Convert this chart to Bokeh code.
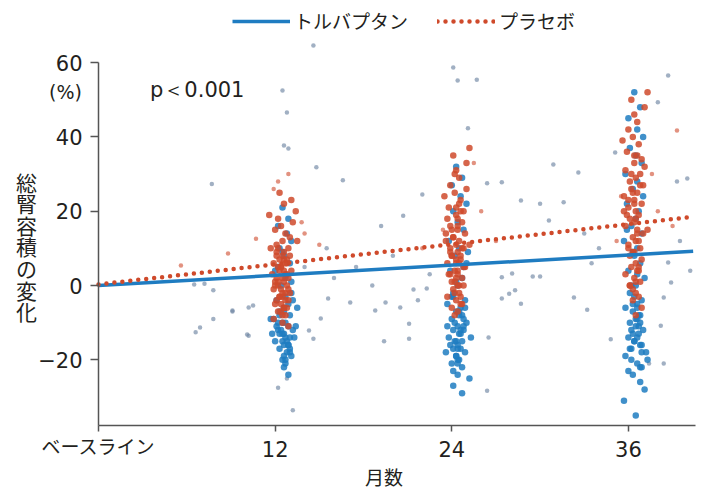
from bokeh.plotting import figure
from bokeh.models import Range1d, FixedTicker, Label, Legend, LegendItem, LinearAxis
from bokeh.embed import file_html
from bokeh.resources import INLINE

# ---------------- data ----------------
month_ticks = [0, 12, 24, 36]
month_labels = ["", "12", "24", "36"]
baseline_tick = [0]
baseline_label = ["ベースライン"]
y_ticks = [-20, 0, 20, 40, 60]
y_labels = ["−20", "0", "20", "40", "60"]

trend_x = [0, 40.4]
tol_trend = [0.0, 9.2]
pla_trend = [0.3, 18.5]

# placebo points around month 12, 24, 36
R12x = [12.5,12.9,12.1,13.0,12.6,11.9,12.8,12.4,12.2,13.1,
        12.3,12.7,11.8,12.5,12.9,12.0,12.6,12.8,12.2,12.4,
        11.9,12.7,13.0,12.3,12.5,12.1,12.9,12.4,12.0,12.8,
        12.6,12.2,12.7,11.9,12.5,12.9,12.1,12.6,12.3,13.0,
        12.0,12.7,12.4,13.2,12.2,13.4,11.6,12.6,13.1,12.3,
        11.7,13.5,12.1,12.8,12.5,12.4,12.7,12.0,12.5,12.6,
        12.2,12.8,12.4,12.1,12.9,12.3,12.6,12.5,12.2,12.7]
R12y = [12,10,9,8,7,6,6,5,5,4,
        4,3,3,2,2,1,1,0,0,-1,
        -1,-2,-2,-3,-3,-4,-4,-5,-5,-6,
        -6,-7,-8,-9,-10,-11,11,9,7,13,
        15,14,16,17,18,20,19,22,23,25,
        10,12,8,3,-2,-7,-4,0,8,4,
        10,7,5,2,-1,-3,-6,-8,1,6]
R24x = [24.2,24.6,23.8,24.8,24.3,23.7,24.7,24.4,24.0,24.9,
        24.1,24.5,23.6,24.3,24.8,23.9,24.4,24.6,24.0,24.3,
        23.7,24.5,24.9,24.2,24.4,23.9,24.7,24.3,24.0,24.8,
        24.4,24.1,24.5,23.7,24.3,24.7,24.0,24.4,24.2,24.8,
        23.9,24.5,24.3,25.0,24.1,25.2,23.5,24.5,25.0,24.2,
        23.6,25.2,23.9,24.6,24.4,24.2,24.6,23.9,24.4,24.6,
        24.1,24.7,24.3,23.8,24.5,24.2,24.6,24.0,24.4,24.3]
R24y = [25,23,21,20,19,18,17,16,15,14,
        13,12,12,11,10,10,9,8,8,7,
        6,6,5,4,4,3,2,2,1,0,
        0,-1,-2,-3,-4,-5,-6,-7,-8,5,
        27,29,31,33,35,37,24,22,26,30,
        14,11,9,7,3,1,-3,16,18,20,
        13,10,6,3,0,-2,-5,8,15,21]
R36x = [36.3,36.7,35.9,36.9,36.4,35.8,36.8,36.5,36.1,37.0,
        36.2,36.6,35.7,36.4,36.9,36.0,36.5,36.7,36.1,36.4,
        35.8,36.6,37.0,36.3,36.5,36.0,36.8,36.4,36.1,36.9,
        36.5,36.2,36.6,35.8,36.4,36.8,36.1,36.5,36.3,36.9,
        36.0,36.6,36.4,37.1,36.2,37.3,35.6,36.6,37.1,36.3,
        35.7,37.3,36.0,36.7,36.5,36.3,36.7,36.0,36.5,36.7,
        36.2,36.8,36.4,35.9,36.6,36.3,36.7,36.1,36.5,36.4]
R36y = [40,38,36,34,33,31,30,29,28,27,
        26,25,24,23,22,21,20,19,18,17,
        16,15,14,13,12,11,10,9,8,7,
        6,5,4,3,2,1,0,-2,-4,-6,
        42,44,46,48,50,52,39,35,32,25,
        20,15,10,5,1,-1,-3,23,18,12,
        30,27,22,19,14,9,4,0,-8,35]

# tolvaptan points around month 12, 24, 36
B12x = [12.5,12.9,12.2,12.8,13.1,12.3,12.6,13.0,12.0,12.7,
        12.4,13.1,12.1,12.9,12.6,12.3,13.0,11.9,12.7,12.5,
        12.9,12.2,13.2,12.6,12.3,13.0,12.7,12.0,12.5,12.9,
        12.6,12.3,12.8,13.1,12.5,12.7,12.6,12.9,12.3,13.4,
        11.8,13.5,12.7,13.1,12.2,12.5,13.0,13.3,11.7,12.6,
        12.4,12.8,12.2,13.0,12.6,12.1,12.9,12.5,12.7,13.2]
B12y = [21,18,16,14,12,10,8,6,4,2,
        0,-2,-4,-5,-6,-7,-8,-9,-10,-10,
        -11,-12,-12,-13,-13,-14,-14,-15,-15,-16,
        -16,-17,-18,-19,-20,-21,-22,-24,-8,-11,
        -13,-6,-3,1,5,9,-17,-14,-9,-19,
        -12,-15,-10,-18,-7,-11,-16,-13,-20,-4]
B24x = [24.3,24.7,24.0,24.6,25.0,24.1,24.4,24.8,23.8,24.5,
        24.2,25.0,23.9,24.7,24.4,24.1,24.9,23.7,24.6,24.3,
        24.7,24.0,25.0,24.4,24.1,24.8,24.5,23.8,24.3,24.7,
        24.4,24.1,24.6,24.9,24.3,24.5,24.4,24.7,24.1,25.2,
        23.7,25.3,24.5,24.9,24.0,24.3,24.8,25.1,23.6,24.4,
        24.1,24.7,24.4,24.6,24.2,23.9,24.8,24.3,24.6,24.0,
        24.5,24.2,24.8,24.4,24.1]
B24y = [32,29,27,24,22,20,17,15,12,10,
        8,6,4,2,0,-2,-4,-5,-6,-7,
        -8,-9,-10,-11,-12,-12,-13,-14,-15,-15,
        -16,-17,-17,-18,-19,-20,-21,-22,-23,-25,
        -11,-14,-8,-6,-3,1,5,9,-18,-20,
        -27,-29,-24,-13,-10,-16,-9,-19,-12,-21,
        -7,-15,-11,-17,-3]
B36x = [36.4,36.8,36.0,36.6,37.0,36.1,36.5,36.9,35.8,36.6,
        36.3,37.0,35.9,36.7,36.5,36.2,36.9,35.7,36.6,36.4,
        36.8,36.0,37.1,36.5,36.1,36.9,36.6,35.8,36.3,36.8,
        36.5,36.1,36.7,37.0,36.3,36.6,36.4,36.8,36.2,37.2,
        35.8,37.3,36.6,36.9,36.0,36.3,36.8,37.1,35.7,36.5,
        36.2,36.7,36.4,36.6,36.3,35.9,36.9,36.2,36.6,36.8,
        36.0,36.5,36.9,36.3,36.7,36.1,36.6,36.4,36.8,36.2]
B36y = [52,48,45,42,40,37,35,33,30,28,
        26,24,22,20,18,16,14,12,10,8,
        6,4,2,0,-2,-4,-5,-6,-7,-8,
        -9,-10,-11,-12,-13,-14,-15,-16,-17,-18,
        -19,-20,-21,-22,-23,-24,-26,-28,-31,-35,
        -12,-8,-3,3,9,15,-16,-20,-6,-10,
        -14,-11,-18,-5,-13,-17,-9,-15,-22,0]

# scattered individual measurements (off the visit months)
OBx = [7.7,6.6,6.9,7.8,9.1,10.1,10.2,6.5,7.2,7.8,
       14.6,12.5,12.8,12.9,12.6,14.8,16.6,24.1,24.4,25.7,
       25.1,30.9,32.6,27.4,26.4,28.7,30.0,31.6,22.0,20.7,
       19.2,30.6,38.7,38.0,35.1,39.3,40.0,18.6,19.5,18.8,
       20.5,21.7,21.1,21.1,19.4,21.4,22.3,17.1,28.1,28.3,
       29.5,30.0,28.7,27.4,26.5,26.4,27.9,32.3,33.2,27.4,
       38.9,38.4,38.2,38.4,37.4,34.8,38.7,9.1,10.2,10.5,
       15.1,15.6,14.6,14.3,13.2,12.2,12.8,16.0,17.5,20.0,
       22.5,14.0,15.5,33.5,34.0,33.0,39.5,40.2]
OBy = [27.3,-12.6,-11.3,-9.0,-7.0,-13.2,-5.9,0.3,0.5,-1.3,
       64.6,52.5,46.6,36.9,37.7,31.8,28.3,58.7,55.2,55.4,
       42.3,32.6,30.4,27.8,27.5,22.9,22.0,22.4,24.5,18.8,
       16.0,17.5,56.5,49.3,35.8,28.0,28.8,0.0,-4.6,-6.7,
       -5.9,-4.0,-10.3,-14.3,-15.0,-1.1,-0.8,-4.6,3.2,-1.3,
       2.4,2.4,-4.9,-3.5,-14.0,-28.3,-2.2,-3.2,-6.5,2.2,
       0.8,-3.2,-10.8,-21.0,-21.0,-14.5,6.2,-6.7,-13.5,-5.4,
       -8.9,-3.5,-14.3,-12.1,-33.6,-27.5,-25.0,2.0,5.0,8.0,
       3.0,5.0,10.0,6.0,10.0,14.0,12.0,4.0]
ORx = [8.8,10.7,5.6,12.2,12.9,11.9,39.3,14.0,15.0,26.0,
       27.0,38.0,39.0,22.0,25.5,35.5,37.6,13.8,23.4,35.2]
ORy = [8.6,12.6,5.4,28.0,30.0,26.0,41.7,14.0,11.0,20.0,
       12.0,20.0,16.0,10.0,33.0,24.0,30.0,17.0,15.0,12.0]

# ---------------- figure ----------------
BLUE = "#1f7cc1"
RED = "#cf4a2b"
GRAY = "#6f86a3"
AXIS = "#555555"
TXT = "#231f20"
NUM_FONT = "DejaVu Sans"
JP_FONT = "Noto Sans CJK JP"
X_BOTTOM = -37.7

p = figure(width=704, height=493, output_backend="svg", toolbar_location=None,
           x_range=Range1d(-6.658, 41.17), y_range=Range1d(-55.99, 76.72),
           min_border=0)
p.outline_line_color = None
p.xgrid.visible = False
p.ygrid.visible = False
p.background_fill_color = "white"

# points
p.scatter(OBx, OBy, size=4.5, color=GRAY, alpha=0.65, line_color=None)
for xs, ys in [(B12x, B12y), (B24x, B24y), (B36x, B36y)]:
    p.scatter(xs, ys, size=6.5, color=BLUE, alpha=0.85, line_color=None)
for xs, ys in [(R12x, R12y), (R24x, R24y), (R36x, R36y)]:
    p.scatter(xs, ys, size=6.5, color=RED, alpha=0.85, line_color=None)
p.scatter(ORx, ORy, size=4.5, color=RED, alpha=0.6, line_color=None)

# trend lines
l_tol = p.line(trend_x, tol_trend, line_color=BLUE, line_width=3.5)
l_pla = p.line(trend_x, pla_trend, line_color=RED, line_width=4.5,
               line_dash="0 8", line_cap="round")

# axes (fixed inside the full-canvas frame)
xa = p.xaxis[0]
xa.fixed_location = X_BOTTOM
xa.bounds = (0, 40.55)
xa.ticker = FixedTicker(ticks=month_ticks)
xa.major_label_overrides = {t: l for t, l in zip(month_ticks, month_labels)}
xa.major_tick_out = 6
xa.major_tick_in = 0
xa.minor_tick_line_color = None
xa.axis_line_color = AXIS
xa.axis_line_width = 1.5
xa.major_tick_line_color = AXIS
xa.major_tick_line_width = 1.5
xa.major_label_text_font = NUM_FONT
xa.major_label_text_font_size = "21px"
xa.major_label_text_color = TXT
xa.major_label_standoff = 9

xb = LinearAxis(fixed_location=X_BOTTOM, ticker=FixedTicker(ticks=baseline_tick),
                major_label_overrides={t: l for t, l in zip(baseline_tick, baseline_label)},
                axis_line_color=None, major_tick_line_color=None,
                minor_tick_line_color=None, major_tick_out=6,
                major_label_standoff=0, major_label_text_font=JP_FONT,
                major_label_text_font_size="19px", major_label_text_color=TXT)
p.add_layout(xb, "below")

ya = p.yaxis[0]
ya.fixed_location = 0
ya.ticker = FixedTicker(ticks=y_ticks)
ya.major_label_overrides = {t: l for t, l in zip(y_ticks, y_labels)}
ya.bounds = (X_BOTTOM, 60)
ya.major_tick_out = 8
ya.major_tick_in = 0
ya.minor_tick_line_color = None
ya.axis_line_color = AXIS
ya.axis_line_width = 1.5
ya.major_tick_line_color = AXIS
ya.major_tick_line_width = 1.5
ya.major_label_text_font = NUM_FONT
ya.major_label_text_font_size = "21px"
ya.major_label_text_color = TXT
ya.major_label_standoff = 8

# texts
p.add_layout(Label(x=-4.9, y=32.0, text="総\n腎\n容\n積\nの\n変\n化",
                   text_align="center", text_baseline="top",
                   text_font=JP_FONT, text_font_size="21px",
                   text_line_height=0.72, text_color=TXT))
p.add_layout(Label(x=-2.24, y=52.0, text="(%)", text_align="center",
                   text_baseline="middle", text_font=NUM_FONT,
                   text_font_size="19px", text_color=TXT))
p.add_layout(Label(x=3.5, y=52.5, text="p＜0.001", text_align="left",
                   text_baseline="alphabetic", text_font=NUM_FONT,
                   text_font_size="21px", text_color=TXT))
p.add_layout(Label(x=19.4, y=-51.5, text="月数", text_align="center",
                   text_baseline="alphabetic", text_font=JP_FONT,
                   text_font_size="19px", text_color=TXT))

legend = Legend(items=[LegendItem(label="トルバプタン", renderers=[l_tol]),
                       LegendItem(label="プラセボ", renderers=[l_pla])],
                orientation="horizontal", location=(232, 459),
                glyph_width=58, glyph_height=20, label_standoff=4,
                spacing=29, padding=0, margin=0,
                label_text_font=JP_FONT, label_text_font_size="19px",
                label_text_color=TXT, border_line_color=None,
                background_fill_alpha=0)
p.add_layout(legend)

open("out.html", "w").write(file_html(p, INLINE))
